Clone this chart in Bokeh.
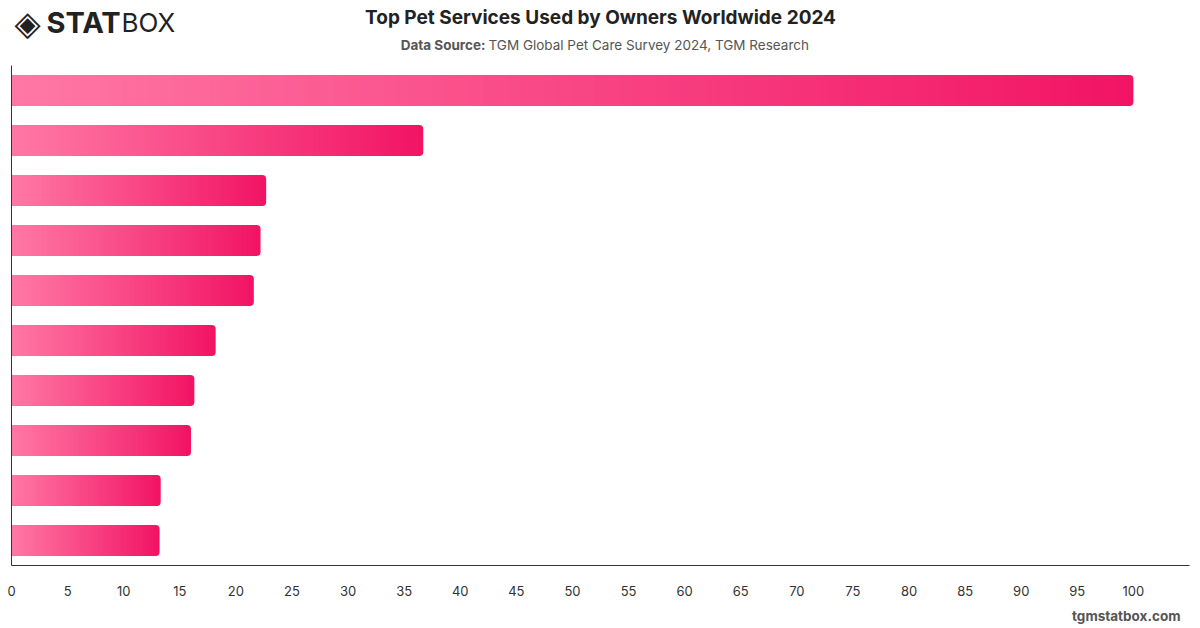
from bokeh.plotting import figure
from bokeh.layouts import column
from bokeh.models import Range1d, FixedTicker, ColumnDataSource
from bokeh.core.properties import value
from bokeh.embed import file_html
from bokeh.resources import INLINE

# Share of pet owners using each service (%), ranked from most to least used
ranks = [1, 2, 3, 4, 5, 6, 7, 8, 9, 10]
values = [100, 36.7, 22.7, 22.2, 21.6, 18.2, 16.3, 16.0, 13.3, 13.2]
x_ticks = list(range(0, 101, 5))

title_text = "Top Pet Services Used by Owners Worldwide 2024"
source_head = "Data Source:"
source_text = "TGM Global Pet Care Survey 2024, TGM Research"
footer_text = "tgmstatbox.com"

# Gradient end colours for every bar (left -> right)
c_start = (255, 120, 165)
c_end = (242, 20, 100)
N_STEPS = 90
BAR_H = 0.62

W = 1200
HEAD_H, MAIN_H, FOOT_H = 65, 535, 28
LEFT, RIGHT = 11, 11


def bare(height):
    # Text-only strip; its frame lines up with the chart frame in the column,
    # so the x range is set to the frame's pixel span
    f = figure(width=W, height=height, output_backend="svg",
               toolbar_location=None, x_range=Range1d(LEFT, W - RIGHT),
               y_range=Range1d(height, 0), x_axis_type=None, y_axis_type=None,
               min_border_left=LEFT, min_border_right=RIGHT,
               min_border_top=0, min_border_bottom=0)
    f.outline_line_color = None
    f.xgrid.visible = False
    f.ygrid.visible = False
    return f


def txt(f, x, y, s, size, color="#222222", style="normal", align="left",
        font="Inter"):
    f.text(x=[x], y=[y], text=[s], text_font=value(font),
           text_font_size=size, text_color=color, text_font_style=style,
           text_align=align, text_baseline="middle")


# Header: brand mark, title and data source
head = bare(HEAD_H)
txt(head, 27, 22, "\u25c8", "34px", style="bold", align="center",
    font="DejaVu Sans")
txt(head, 46, 22, "STAT", "29px", style="bold")
txt(head, 121, 22, "BOX", "26px")
txt(head, 600, 17, title_text, "19px", style="bold", align="center")
txt(head, 485, 44, source_head, "13.5px", color="#555555", style="bold",
    align="right")
txt(head, 488, 44, source_text, "13.5px", color="#555555")

# Main bar chart
p = figure(width=W, height=MAIN_H, output_backend="svg", toolbar_location=None,
           x_range=Range1d(0, 105), y_range=Range1d(10.5, 0.5),
           min_border_left=LEFT, min_border_right=RIGHT,
           min_border_top=0, min_border_bottom=MAIN_H - 500)
p.outline_line_color = None
p.xgrid.visible = False
p.ygrid.visible = False


def mix(t):
    r = round(c_start[0] + (c_end[0] - c_start[0]) * t)
    g = round(c_start[1] + (c_end[1] - c_start[1]) * t)
    b = round(c_start[2] + (c_end[2] - c_start[2]) * t)
    return "#%02x%02x%02x" % (r, g, b)


# Full bars with rounded right ends, in the end colour
full = ColumnDataSource(dict(
    left=[0] * len(values), right=values,
    top=[r - BAR_H / 2 for r in ranks], bottom=[r + BAR_H / 2 for r in ranks]))
p.quad(left="left", right="right", top="top", bottom="bottom", source=full,
       fill_color="#%02x%02x%02x" % c_end, line_color=None,
       border_radius=(0, 4, 4, 0))

# Gradient slices laid over each bar
gl, gr, gt, gb, gc = [], [], [], [], []
for r, v in zip(ranks, values):
    body = v - 0.45
    step = body / N_STEPS
    for k in range(N_STEPS):
        gl.append(k * step)
        gr.append(min((k + 1.6) * step, body))
        gt.append(r - BAR_H / 2)
        gb.append(r + BAR_H / 2)
        gc.append(mix((k + 0.5) / N_STEPS * body / v))
grad = ColumnDataSource(dict(left=gl, right=gr, top=gt, bottom=gb, color=gc))
p.quad(left="left", right="right", top="top", bottom="bottom", source=grad,
       fill_color="color", line_color=None)

xa = p.xaxis[0]
xa.ticker = FixedTicker(ticks=x_ticks)
xa.minor_tick_line_color = None
xa.major_tick_line_color = None
xa.axis_line_color = "#333333"
xa.major_label_text_font = "Inter"
xa.major_label_text_font_size = "13px"
xa.major_label_text_color = "#333333"
xa.major_label_standoff = 14

ya = p.yaxis[0]
ya.ticker = FixedTicker(ticks=[])
ya.minor_tick_line_color = None
ya.major_tick_line_color = None
ya.major_label_text_font_size = "0px"
ya.axis_line_color = "#333333"

# Footer
foot = bare(FOOT_H)
txt(foot, 1180, 15, footer_text, "13.5px", color="#555555", style="bold",
    align="right")

layout = column(head, p, foot, spacing=0)
open("out.html", "w").write(file_html(layout, INLINE))
